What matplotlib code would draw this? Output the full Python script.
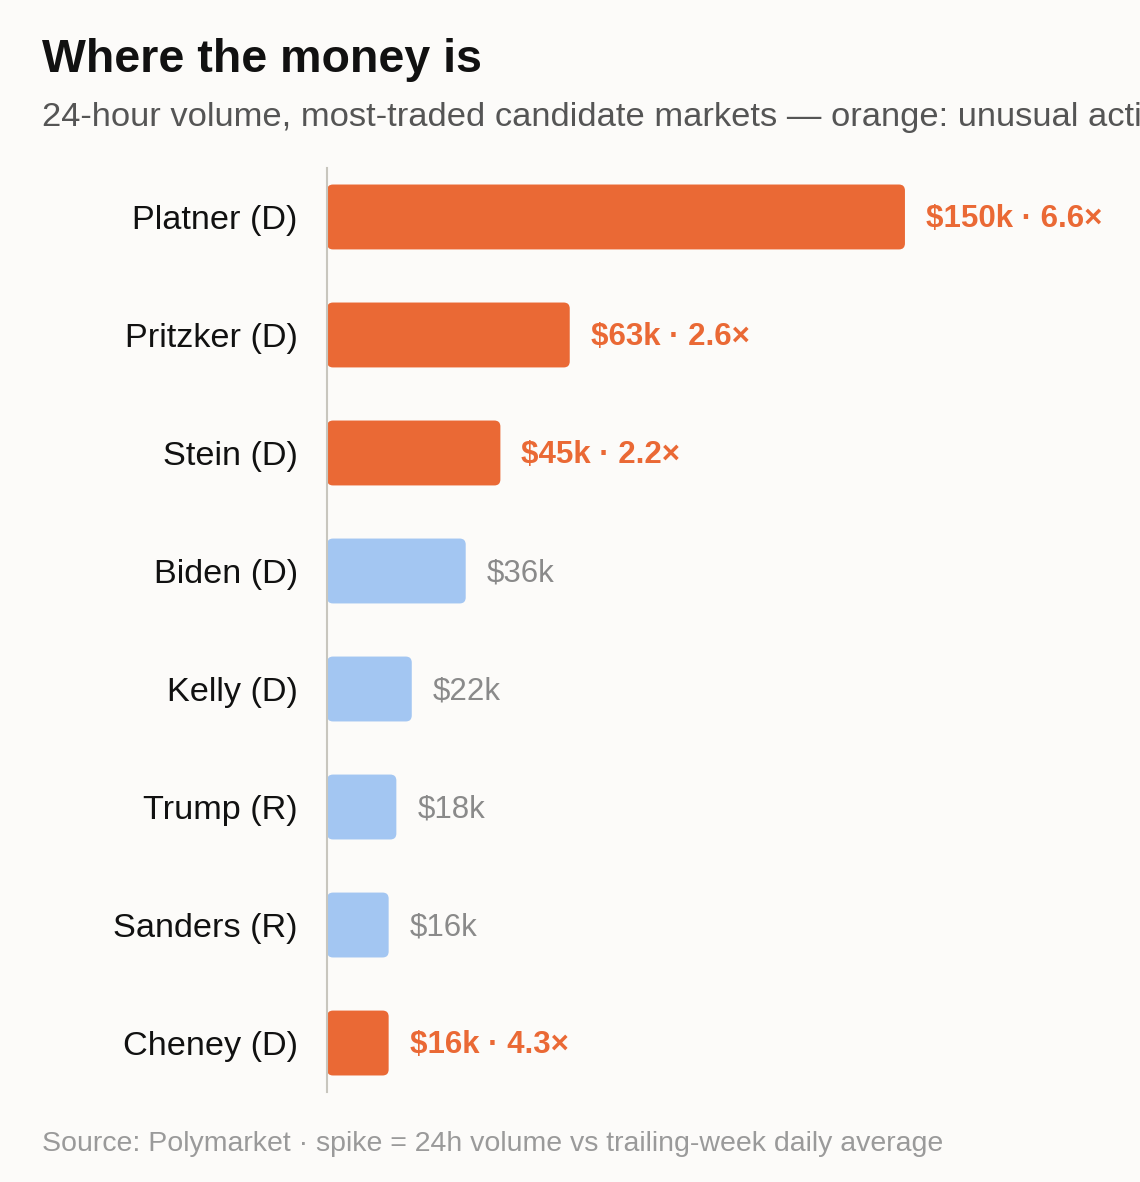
import numpy as np
import matplotlib.pyplot as plt
from matplotlib.patches import FancyBboxPatch

candidates = ['Platner (D)', 'Pritzker (D)', 'Stein (D)', 'Biden (D)',
              'Kelly (D)', 'Trump (R)', 'Sanders (R)', 'Cheney (D)']
volume_k = [150, 63, 45, 36, 22, 18, 16, 16]
spike = [6.6, 2.6, 2.2, None, None, None, None, 4.3]

ORANGE = '#ea6935'
BLUE = '#a3c6f2'
BG = '#fcfbf9'

plt.rcParams['font.family'] = ['Liberation Sans', 'DejaVu Sans']

W, H = 1140, 1182
fig = plt.figure(figsize=(W / 100, H / 100), dpi=100, facecolor=BG)
ax_left, ax_top, ax_bot = 327, 168, 1092
ax = fig.add_axes([ax_left / W, 1 - ax_bot / H, (W - ax_left) / W, (ax_bot - ax_top) / H])
ax.set_facecolor(BG)

px_per_k = 3.853
ax.set_xlim(0, (W - ax_left) / px_per_k)
ax.set_ylim(7.415, -0.415)

bar_h = 0.55
r_px = 6
px_per_y = (ax_bot - ax_top) / (7.415 + 0.415)
r_x = r_px / px_per_k
aspect = (r_px / px_per_y) / r_x

for i, (v, s) in enumerate(zip(volume_k, spike)):
    col = ORANGE if s is not None else BLUE
    patch = FancyBboxPatch((0, i - bar_h / 2), v, bar_h,
                           boxstyle=f'round,pad=0,rounding_size={r_x}',
                           mutation_aspect=aspect, fc=col, ec='none', zorder=2)
    ax.add_patch(patch)
    if s is not None:
        txt = f'${v}k · {s}×'
        ax.annotate(txt, (v, i), xytext=(21 * 0.72, -1.5), textcoords='offset points',
                    va='center', ha='left', fontsize=22.5, fontweight='bold', color=ORANGE)
    else:
        ax.annotate(f'${v}k', (v, i), xytext=(21 * 0.72, -1.5), textcoords='offset points',
                    va='center', ha='left', fontsize=22.5, color='#8a8a8a')

ax.set_yticks(range(len(candidates)))
ax.set_yticklabels(candidates, fontsize=24.7, color='#111111')
ax.tick_params(axis='y', length=0, pad=21)
ax.set_xticks([])
for sp in ['top', 'right', 'bottom']:
    ax.spines[sp].set_visible(False)
ax.spines['left'].set_color('#c8c6be')
ax.spines['left'].set_linewidth(1.5)
ax.spines['left'].set_zorder(3)

fig.text(42 / W, 1 - 72 / H, 'Where the money is', fontsize=33.5, fontweight='bold',
         color='#111111', ha='left', va='baseline')
fig.text(42 / W, 1 - 126 / H,
         '24-hour volume, most-traded candidate markets — orange: unusual activity',
         fontsize=24.8, color='#555555', ha='left', va='baseline')
fig.text(42 / W, 1 - 1151 / H,
         'Source: Polymarket · spike = 24h volume vs trailing-week daily average',
         fontsize=20.5, color='#9a9a9a', ha='left', va='baseline')

fig.savefig('out.png', dpi=100, facecolor=BG)
